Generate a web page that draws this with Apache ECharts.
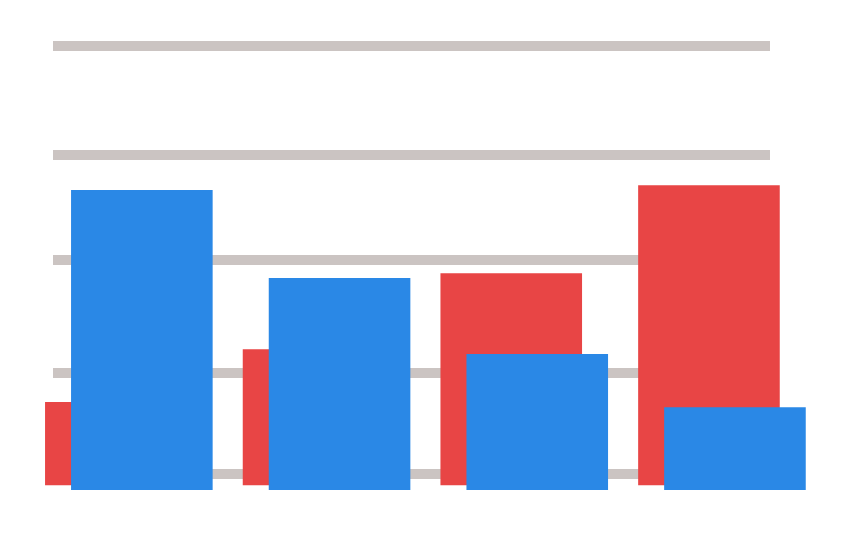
<!DOCTYPE html>
<html>
<head>
<meta charset="utf-8">
<script src="https://cdn.jsdelivr.net/npm/echarts@6/dist/echarts.min.js"></script>
<style>html,body{margin:0;padding:0;background:#fff}#c{width:850px;height:538px}</style>
</head>
<body>
<div id="c"></div>
<script>
var categories = ['A', 'B', 'C', 'D'];
var redValues = [20.8, 34, 53, 75];
var blueValues = [75, 53, 34, 20.7];
var gridLineValues = [0, 0.95, 2.0, 2.98, 4];

var chart = echarts.init(document.getElementById('c'), null, {renderer: 'canvas'});
chart.setOption({
  animation: false,
  backgroundColor: '#ffffff',
  grid: [
    {left: 53, right: 80, top: 46, bottom: 64},
    {left: 17, right: 42.2, top: 85.3, bottom: 52.7},
    {left: 43, right: 16.2, top: 90, bottom: 48}
  ],
  xAxis: [
    {gridIndex: 0, type: 'category', data: categories, show: false},
    {gridIndex: 1, type: 'category', data: categories, show: false},
    {gridIndex: 2, type: 'category', data: categories, show: false}
  ],
  yAxis: [
    {gridIndex: 0, type: 'value', min: 0, max: 4, show: false, splitLine: {show: false}},
    {gridIndex: 1, type: 'value', min: 0, max: 100, show: false, splitLine: {show: false}},
    {gridIndex: 2, type: 'value', min: 0, max: 100, show: false, splitLine: {show: false}}
  ],
  series: [
    {type: 'line', xAxisIndex: 0, yAxisIndex: 0, z: 0, silent: true,
      data: categories.map(function () { return null; }), showSymbol: false,
      markLine: {
        z: 0, silent: true, symbol: ['none', 'none'], label: {show: false},
        lineStyle: {color: '#cbc4c2', width: 10, type: 'solid'},
        data: gridLineValues.map(function (v) { return {yAxis: v}; })
      }},
    {type: 'bar', xAxisIndex: 1, yAxisIndex: 1, data: redValues, barWidth: 141.6, z: 10,
      itemStyle: {color: '#e84545'}},
    {type: 'bar', xAxisIndex: 2, yAxisIndex: 2, data: blueValues, barWidth: 141.6, z: 11,
      itemStyle: {color: '#2a88e6'}}
  ]
});
</script>
</body>
</html>
